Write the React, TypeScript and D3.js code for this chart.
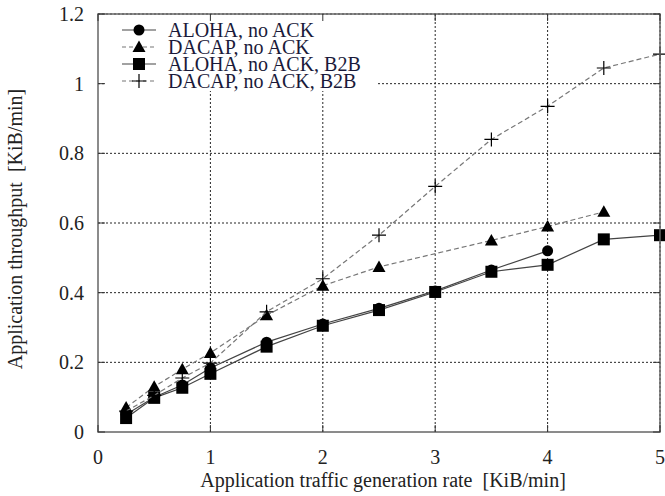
import React from "react";
import * as d3 from "d3";

// traffic generation rate [KiB/min]
const ratesAll = [0.25, 0.5, 0.75, 1, 1.5, 2, 2.5, 3, 3.5, 4, 4.5, 5];
const ratesAloha = [0.25, 0.5, 0.75, 1, 1.5, 2, 2.5, 3, 3.5, 4];
const ratesDacap = [0.25, 0.5, 0.75, 1, 1.5, 2, 2.5, 3.5, 4, 4.5];

// throughput [KiB/min]
const alohaNoAck = [0.05, 0.1, 0.135, 0.184, 0.258, 0.31, 0.355, 0.405, 0.465, 0.52];
const dacapNoAck = [0.07, 0.13, 0.18, 0.227, 0.335, 0.42, 0.474, 0.55, 0.59, 0.632];
const alohaB2B = [0.04, 0.098, 0.127, 0.167, 0.245, 0.305, 0.35, 0.402, 0.46, 0.48, 0.553, 0.565];
const dacapB2B = [0.06, 0.105, 0.155, 0.198, 0.345, 0.44, 0.565, 0.705, 0.84, 0.935, 1.045, 1.085];

const xTicks = [0, 1, 2, 3, 4, 5];
const yTicks = [0, 0.2, 0.4, 0.6, 0.8, 1, 1.2];

const seriesNames = ["ALOHA, no ACK", "DACAP, no ACK", "ALOHA, no ACK, B2B", "DACAP, no ACK, B2B"];

type Marker = "circle" | "triangle" | "square" | "plus";

const series = [
  { name: seriesNames[0], xs: ratesAloha, ys: alohaNoAck, marker: "circle" as Marker, dashed: false },
  { name: seriesNames[1], xs: ratesDacap, ys: dacapNoAck, marker: "triangle" as Marker, dashed: true },
  { name: seriesNames[2], xs: ratesAll, ys: alohaB2B, marker: "square" as Marker, dashed: false },
  { name: seriesNames[3], xs: ratesAll, ys: dacapB2B, marker: "plus" as Marker, dashed: true },
];

const font = "'Liberation Serif', 'Times New Roman', serif";

const drawMarker = (m: Marker, x: number, y: number, key: string) => {
  if (m === "circle") return <circle key={key} cx={x} cy={y} r={5.5} fill="#000" />;
  if (m === "square") return <rect key={key} x={x - 6} y={y - 6} width={12} height={12} fill="#000" />;
  if (m === "triangle")
    return <path key={key} d={`M${x},${y - 6.5}L${x + 6.5},${y + 5}L${x - 6.5},${y + 5}Z`} fill="#000" />;
  return (
    <path key={key} d={`M${x - 7},${y}H${x + 7}M${x},${y - 7}V${y + 7}`} stroke="#000" strokeWidth={1.2} />
  );
};

export default function App() {
  const width = 665;
  const height = 496;
  const margin = { left: 98, right: 5, top: 14, bottom: 64 };

  const x = d3.scaleLinear().domain([0, 5]).range([margin.left, width - margin.right]);
  const y = d3.scaleLinear().domain([0, 1.2]).range([height - margin.bottom, margin.top]);

  const line = d3
    .line<[number, number]>()
    .x((d) => x(d[0]))
    .y((d) => y(d[1]));

  const x0 = x(0), x1 = x(5), y0 = y(0), y1 = y(1.2);

  return (
    <div style={{ position: "absolute", left: 0, top: 0 }}>
      <svg width={width} height={height} style={{ display: "block", background: "#fff" }}>
        {/* grid */}
        <g stroke="#000" strokeWidth={1} strokeDasharray="2,2" opacity={0.85}>
          {xTicks.slice(1).map((t) => (
            <line key={"gx" + t} x1={x(t)} x2={x(t)} y1={y0} y2={y1} />
          ))}
          {yTicks.slice(1).map((t) => (
            <line key={"gy" + t} x1={x0} x2={x1} y1={y(t)} y2={y(t)} />
          ))}
        </g>

        {/* key background hides grid */}
        <rect x={104} y={y1 + 1} width={272} height={76} fill="#fff" />

        {/* series */}
        {series.map((s, i) => {
          const pts = s.xs.map((v, j) => [v, s.ys[j]] as [number, number]);
          return (
            <g key={"s" + i}>
              <path
                d={line(pts) || ""}
                fill="none"
                stroke={s.dashed ? "#777" : "#444"}
                strokeWidth={1.2}
                strokeDasharray={s.dashed ? "5,3" : undefined}
              />
              {pts.map((p, j) => drawMarker(s.marker, x(p[0]), y(p[1]), `m${i}-${j}`))}
            </g>
          );
        })}

        {/* border and ticks */}
        <rect x={x0} y={y1} width={x1 - x0} height={y0 - y1} fill="none" stroke="#666" strokeWidth={1.5} />
        <g stroke="#333" strokeWidth={1}>
          {xTicks.map((t) => (
            <g key={"tx" + t}>
              <line x1={x(t)} x2={x(t)} y1={y0} y2={y0 - 7} />
              <line x1={x(t)} x2={x(t)} y1={y1} y2={y1 + 7} />
            </g>
          ))}
          {yTicks.map((t) => (
            <g key={"ty" + t}>
              <line x1={x0} x2={x0 + 7} y1={y(t)} y2={y(t)} />
              <line x1={x1} x2={x1 - 7} y1={y(t)} y2={y(t)} />
            </g>
          ))}
        </g>

        {/* tick labels */}
        <g fontFamily={font} fontSize={20} fill="#222">
          {xTicks.map((t) => (
            <text key={"lx" + t} x={x(t)} y={464} textAnchor="middle">
              {d3.format("~g")(t)}
            </text>
          ))}
          {yTicks.map((t) => (
            <text key={"ly" + t} x={84} y={y(t) + 7} textAnchor="end">
              {d3.format("~g")(t)}
            </text>
          ))}
        </g>

        {/* axis titles */}
        <text x={383} y={487} textAnchor="middle" fontFamily={font} fontSize={20} fill="#222" xmlSpace="preserve">
          {"Application traffic generation rate  [KiB/min]"}
        </text>
        <text
          transform="translate(22,229) rotate(-90)"
          textAnchor="middle"
          fontFamily={font}
          fontSize={20}
          fill="#222"
          xmlSpace="preserve"
        >
          {"Application throughput  [KiB/min]"}
        </text>

        {/* legend */}
        {series.map((s, i) => {
          const cy = 30 + i * 17;
          return (
            <g key={"lg" + i}>
              <line
                x1={122}
                x2={156}
                y1={cy}
                y2={cy}
                stroke={s.dashed ? "#777" : "#444"}
                strokeWidth={1.2}
                strokeDasharray={s.dashed ? "4,3" : undefined}
              />
              {drawMarker(s.marker, 139, cy, "lm" + i)}
              <text x={168} y={cy + 7} fontFamily={font} fontSize={20} fill="#1a1a3a">
                {s.name}
              </text>
            </g>
          );
        })}
      </svg>
    </div>
  );
}
